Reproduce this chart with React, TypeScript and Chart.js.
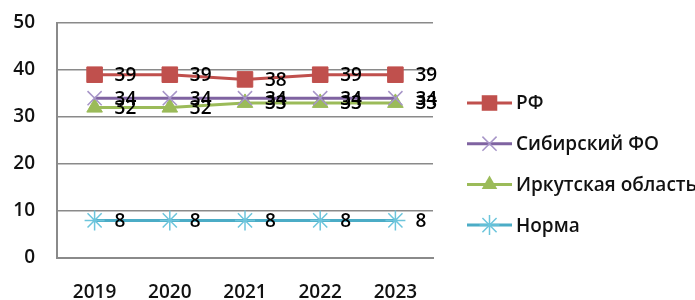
import React, { useEffect, useRef } from "react";
import { Chart, registerables } from "chart.js";

Chart.register(...registerables);

const years = ["2019", "2020", "2021", "2022", "2023"];
const rfValues = [39, 39, 38, 39, 39];
const sibValues = [34, 34, 34, 34, 34];
const irkValues = [32, 32, 33, 33, 33];
const normValues = [8, 8, 8, 8, 8];
const seriesNames = ["РФ", "Сибирский ФО", "Иркутская область", "Норма"];
const yTicks = [0, 10, 20, 30, 40, 50];

const FONT = "'Open Sans', 'DejaVu Sans', sans-serif";
const FSIZE = 19;

function drawPointFn(ctx: any, style: string, x: number, y: number, r: number) {
  ctx.beginPath();
  if (style === "rect") {
    const s = Math.SQRT1_2 * r;
    ctx.rect(x - s, y - s, 2 * s, 2 * s);
    ctx.fill();
  } else if (style === "triangle") {
    ctx.moveTo(x, y - r);
    ctx.lineTo(x + r * 0.866, y + r / 2);
    ctx.lineTo(x - r * 0.866, y + r / 2);
    ctx.closePath();
    ctx.fill();
  } else if (style === "crossRot") {
    const o = Math.SQRT1_2 * r;
    ctx.moveTo(x - o, y - o);
    ctx.lineTo(x + o, y + o);
    ctx.moveTo(x - o, y + o);
    ctx.lineTo(x + o, y - o);
    ctx.stroke();
  } else if (style === "star") {
    const o = Math.SQRT1_2 * r;
    ctx.moveTo(x - o, y - o);
    ctx.lineTo(x + o, y + o);
    ctx.moveTo(x - o, y + o);
    ctx.lineTo(x + o, y - o);
    ctx.moveTo(x, y - r);
    ctx.lineTo(x, y + r);
    ctx.moveTo(x - r, y);
    ctx.lineTo(x + r, y);
    ctx.stroke();
  }
}

const labelsPlugin = {
  id: "valueLabels",
  afterDatasetsDraw(chart: any) {
    const ctx = chart.ctx;
    ctx.save();
    ctx.font = `600 ${FSIZE}px ${FONT}`;
    ctx.fillStyle = "#000";
    ctx.textAlign = "left";
    ctx.textBaseline = "middle";
    chart.data.datasets.forEach((ds: any, i: number) => {
      const meta = chart.getDatasetMeta(i);
      meta.data.forEach((pt: any, j: number) => {
        ctx.fillText(String(ds.data[j]), pt.x + 20, pt.y + 1);
      });
    });
    ctx.restore();
  },
};

const legendPlugin = {
  id: "sideLegend",
  afterDraw(chart: any) {
    const ctx = chart.ctx;
    const area = chart.chartArea;
    const x0 = area.right + 34;
    const y0 = area.top + 80;
    const step = 40.7;
    ctx.save();
    chart.data.datasets.forEach((ds: any, i: number) => {
      const y = y0 + i * step;
      ctx.strokeStyle = ds.borderColor;
      ctx.lineWidth = 3;
      ctx.beginPath();
      ctx.moveTo(x0, y);
      ctx.lineTo(x0 + 45, y);
      ctx.stroke();
      ctx.lineWidth = ds.pointBorderWidth || 1;
      ctx.strokeStyle = ds.pointBorderColor;
      ctx.fillStyle = ds.pointBackgroundColor;
      drawPointFn(ctx, ds.pointStyle, x0 + 22.5, y, ds.pointRadius);
      ctx.font = `600 ${FSIZE}px ${FONT}`;
      ctx.fillStyle = "#111";
      ctx.textAlign = "left";
      ctx.textBaseline = "middle";
      ctx.fillText(ds.label, x0 + 49, y + 1);
    });
    ctx.restore();
  },
};

export default function App() {
  const ref = useRef<HTMLCanvasElement>(null);
  useEffect(() => {
    const chart = new Chart(ref.current!, {
      type: "line",
      data: {
        labels: years,
        datasets: [
          {
            label: seriesNames[0],
            data: rfValues,
            borderColor: "#c0504d",
            borderWidth: 3,
            pointStyle: "rect",
            pointRadius: 11,
            pointBackgroundColor: "#c0504d",
            pointBorderColor: "#c0504d",
            pointBorderWidth: 1,
          },
          {
            label: seriesNames[1],
            data: sibValues,
            borderColor: "#7f63a1",
            borderWidth: 3,
            pointStyle: "crossRot",
            pointRadius: 10,
            pointBackgroundColor: "#a795c8",
            pointBorderColor: "#a795c8",
            pointBorderWidth: 1.5,
          },
          {
            label: seriesNames[2],
            data: irkValues,
            borderColor: "#9bbb59",
            borderWidth: 3,
            pointStyle: "triangle",
            pointRadius: 9,
            pointBackgroundColor: "#9bbb59",
            pointBorderColor: "#9bbb59",
            pointBorderWidth: 1,
          },
          {
            label: seriesNames[3],
            data: normValues,
            borderColor: "#4bacc6",
            borderWidth: 3,
            pointStyle: "star",
            pointRadius: 10,
            pointBackgroundColor: "#6cc5dc",
            pointBorderColor: "#6cc5dc",
            pointBorderWidth: 1.5,
          },
        ],
      },
      options: {
        animation: false,
        responsive: false,
        maintainAspectRatio: false,
        layout: { padding: { top: 23, right: 262, left: 0, bottom: 0 } },
        plugins: { legend: { display: false }, tooltip: { enabled: false } },
        scales: {
          x: {
            offset: true,
            grid: { display: false, drawTicks: false },
            border: { display: true, color: "#8a8a8a", width: 2 },
            ticks: {
              color: "#111",
              font: { family: FONT, size: FSIZE, weight: "600" },
              padding: 23,
              maxRotation: 0,
            },
            afterFit(scale: any) {
              scale.height = 42;
              scale.paddingLeft = 0;
              scale.paddingRight = 0;
            },
          },
          y: {
            min: 0,
            max: 50,
            afterBuildTicks(scale: any) {
              scale.ticks = yTicks.map((v) => ({ value: v }));
            },
            grid: { color: "#8a8a8a", lineWidth: 1.5, drawTicks: false },
            border: { display: true, color: "#8a8a8a", width: 2 },
            ticks: {
              color: "#111",
              font: { family: FONT, size: FSIZE, weight: "600" },
              padding: 22,
            },
            afterFit(scale: any) {
              scale.width = 57;
              scale.paddingTop = 0;
              scale.paddingBottom = 0;
            },
          },
        },
      },
      plugins: [labelsPlugin, legendPlugin],
    } as any);
    return () => chart.destroy();
  }, []);
  return (
    <div style={{ position: "absolute", left: 0, top: 0, width: 695, height: 300, background: "#fff" }}>
      <canvas ref={ref} width={695} height={300} style={{ width: 695, height: 300 }} />
    </div>
  );
}
